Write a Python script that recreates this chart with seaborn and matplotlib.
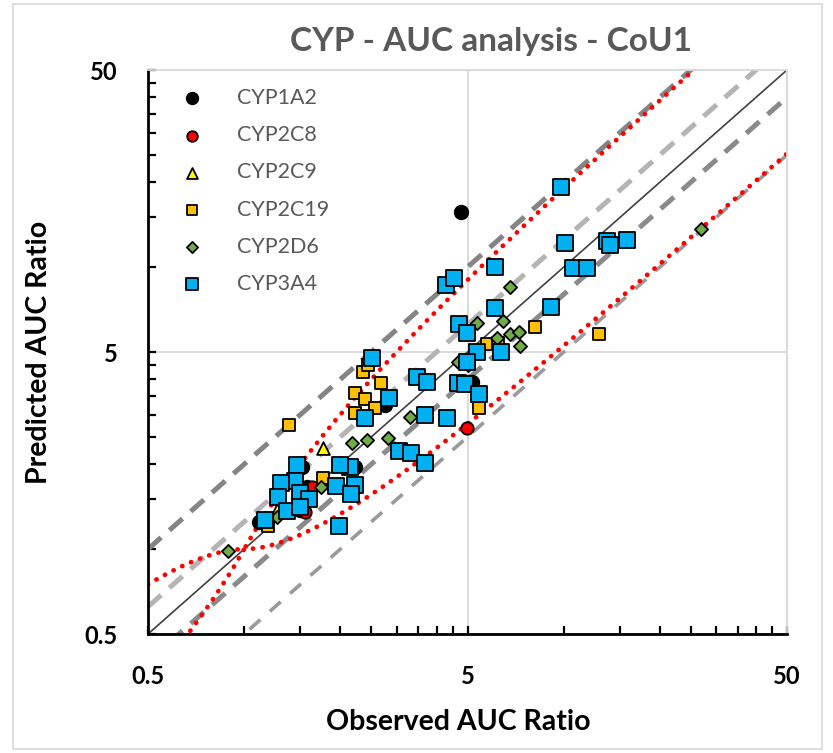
import numpy as np
import matplotlib
matplotlib.use("Agg")
import matplotlib.pyplot as plt
import seaborn as sns
from matplotlib.ticker import FixedLocator, FixedFormatter, NullFormatter
from matplotlib.patches import Rectangle

# ---------------- data (observed, predicted AUC ratios) ----------------
cyp1a2_obs = [4.77, 1.52, 1.57, 2.76, 2.22, 5.17, 1.11, 1.49]
cyp1a2_pred = [15.7, 1.96, 1.66, 3.24, 1.96, 3.91, 1.25, 1.38]

cyp2c8_obs = [4.98, 1.63, 1.55]
cyp2c8_pred = [2.69, 1.66, 1.35]

cyp2c9_obs = [1.77, 1.27]
cyp2c9_pred = [2.28, 1.38]

cyp2c19_obs = [1.38, 2.35, 2.44, 2.68, 2.22, 2.39, 2.22, 2.57, 1.77, 1.19,
               5.43, 8.13, 12.9, 5.75, 6.23]
cyp2c19_pred = [2.76, 4.25, 4.50, 3.88, 3.58, 3.41, 3.04, 3.17, 1.79, 1.21,
                3.17, 6.13, 5.79, 5.34, 5.38]

cyp2d6_obs = [6.79, 5.35, 6.46, 6.20, 6.80, 7.25, 7.30, 4.67, 5.01, 3.30,
              2.82, 2.42, 2.18, 1.74, 0.89, 1.27, 26.9]
cyp2d6_pred = [8.50, 6.34, 6.43, 5.61, 5.79, 5.90, 5.25, 4.61, 4.50, 2.94,
               2.48, 2.44, 2.38, 1.66, 0.985, 1.30, 13.6]

cyp3a4_obs = [9.81, 10.1, 13.7, 14.0, 15.8, 6.10, 10.7, 11.8, 4.28, 4.54,
              6.10, 9.13, 4.70, 4.98, 5.35, 4.98, 6.37, 2.51, 3.47, 3.73,
              4.67, 4.90, 5.43, 2.84, 2.39, 3.68, 4.31, 3.05, 3.32, 3.68,
              2.14, 2.00, 1.46, 1.44, 1.30, 1.94, 2.22, 2.16, 1.49, 1.59,
              1.28, 1.36, 1.50, 1.16, 1.98]
cyp3a4_pred = [19.2, 12.2, 12.4, 12.0, 12.5, 10.0, 9.93, 9.93, 8.64, 9.15,
               7.16, 7.20, 6.29, 5.84, 5.02, 4.62, 4.98, 4.76, 4.08, 3.91,
               3.88, 3.85, 3.55, 3.43, 2.92, 2.99, 2.92, 2.23, 2.19, 2.02,
               1.96, 1.99, 1.99, 1.75, 1.72, 1.67, 1.69, 1.57, 1.58, 1.51,
               1.53, 1.37, 1.41, 1.27, 1.21]

series_names = ["CYP1A2", "CYP2C8", "CYP2C9", "CYP2C19", "CYP2D6", "CYP3A4"]
tick_values = [0.5, 5, 50]
tick_labels = ["0.5", "5", "50"]
fold_inner = 1.25
fold_outer = 2.0
guest_delta = 1.0

# ---------------- style ----------------
sns.set_theme(style="white")
plt.rcParams['font.family'] = ['Lato', 'DejaVu Sans']
plt.rcParams['xtick.direction'] = 'in'
plt.rcParams['ytick.direction'] = 'in'
plt.rcParams['xtick.bottom'] = True
plt.rcParams['ytick.left'] = True

W, H = 833, 753
fig = plt.figure(figsize=(W / 100, H / 100), dpi=100)
L, R, T, B = 148, 787, 70, 634
ax = fig.add_axes([L / W, 1 - B / H, (R - L) / W, (B - T) / H])
ax.set_xscale('log')
ax.set_yscale('log')

xx = np.logspace(np.log10(0.5), np.log10(50), 600)

# Guest limits
rr = np.maximum(xx, 1 / xx)
lim = (guest_delta + 2 * (rr - 1)) / rr
sns.lineplot(x=xx, y=xx * lim, ax=ax, color='#FF0000', lw=3.4,
             linestyle=(0, (0.05, 2.0)), dash_capstyle='round', zorder=2, sort=False)
sns.lineplot(x=xx, y=xx / lim, ax=ax, color='#FF0000', lw=3.4,
             linestyle=(0, (0.05, 2.0)), dash_capstyle='round', zorder=2, sort=False)

# fold lines
sns.lineplot(x=xx, y=xx * fold_outer, ax=ax, color='#848484', lw=3.6,
             linestyle=(0, (3.5, 2.2)), zorder=1.5, sort=False)
sns.lineplot(x=xx, y=xx / fold_outer, ax=ax, color='#9A9A9A', lw=2.6,
             linestyle=(0, (4, 3.5)), zorder=1.5, sort=False)
sns.lineplot(x=xx, y=xx * fold_inner, ax=ax, color='#B4B4B4', lw=3.6,
             linestyle=(0, (3.5, 2.2)), zorder=1.5, sort=False)
sns.lineplot(x=xx, y=xx / fold_inner, ax=ax, color='#8A8A8A', lw=3.6,
             linestyle=(0, (3.5, 2.2)), zorder=1.5, sort=False)
# unity
sns.lineplot(x=xx, y=xx, ax=ax, color='#404040', lw=1.2, zorder=1.6, sort=False)

# scatter series
specs = [
    (cyp1a2_obs, cyp1a2_pred, 'o', '#000000', 95),
    (cyp2c8_obs, cyp2c8_pred, 'o', '#FF0000', 80),
    (cyp2c9_obs, cyp2c9_pred, '^', '#FFFF00', 85),
    (cyp2c19_obs, cyp2c19_pred, 's', '#FFC000', 85),
    (cyp2d6_obs, cyp2d6_pred, 'D', '#70AD47', 45),
    (cyp3a4_obs, cyp3a4_pred, 's', '#00B0F0', 120),
]
for i, (name, (ox, py, mk, col, sz)) in enumerate(zip(series_names, specs)):
    sns.scatterplot(x=ox, y=py, ax=ax, marker=mk, color=col, s=sz,
                    edgecolor='black', linewidth=1.3, label=name, zorder=3 + i * 0.1)

ax.set_xlim(0.5, 50)
ax.set_ylim(0.5, 50)

# ticks
minor_vals = list(np.arange(1.0, 5.0, 0.5)) + list(np.arange(10, 50, 5))
for axis in (ax.xaxis, ax.yaxis):
    axis.set_major_locator(FixedLocator(tick_values))
    axis.set_major_formatter(FixedFormatter(tick_labels))
    axis.set_minor_locator(FixedLocator(minor_vals))
    axis.set_minor_formatter(NullFormatter())
ax.tick_params(which='both', direction='in', length=6, width=1.6, color='black',
               bottom=True, left=True, top=False, right=False)
ax.tick_params(axis='x', which='major', pad=22, labelsize=17)
ax.tick_params(axis='y', which='major', pad=22, labelsize=17)
for lab in ax.get_xticklabels() + ax.get_yticklabels():
    lab.set_fontweight('bold')
    lab.set_color('black')

ax.grid(True, which='major', color='#D9D9D9', lw=1.3)
ax.set_axisbelow(True)
for s in ('left', 'bottom'):
    ax.spines[s].set_color('black')
    ax.spines[s].set_linewidth(2.0)
for s in ('top', 'right'):
    ax.spines[s].set_color('#D9D9D9')
    ax.spines[s].set_linewidth(1.3)

ax.set_xlabel("Observed AUC Ratio", fontsize=20.5, fontweight='bold', color='black')
ax.set_ylabel("Predicted AUC Ratio", fontsize=20.5, fontweight='bold', color='black')
ax.xaxis.set_label_coords((458 - L) / (R - L), (B - 722) / (B - T))
ax.xaxis.label.set_va('center')
ax.yaxis.set_label_coords((39 - L) / (R - L), (B - 352) / (B - T))
ax.yaxis.label.set_va('center')

fig.text(491 / W, 1 - 42 / H, "CYP - AUC analysis - CoU1", ha='center', va='center',
         fontsize=24, fontweight='bold', color='#595959')

leg = ax.legend(loc='upper left', bbox_to_anchor=((181 - L) / (R - L), (B - 88) / (B - T)),
                frameon=False, fontsize=15.5, labelcolor='#595959', handlelength=1.0,
                handletextpad=1.6, labelspacing=0.8, borderaxespad=0, borderpad=0,
                markerscale=0.85)

fig.patches.append(Rectangle((13 / W, 4 / H), (822 - 13) / W, (749 - 4) / H,
                             transform=fig.transFigure, fill=False,
                             edgecolor='#D9D9D9', lw=1.2))

fig.savefig("out.png", dpi=100)
